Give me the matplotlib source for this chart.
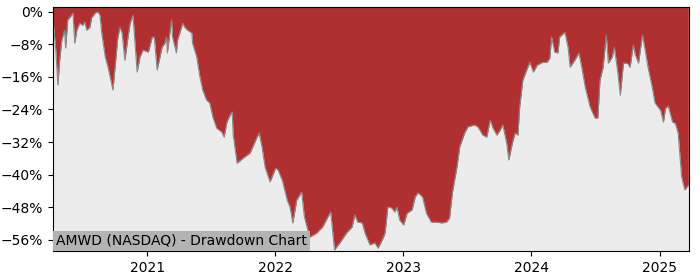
import matplotlib
matplotlib.use("Agg")
import matplotlib.pyplot as plt
import matplotlib.dates as mdates
from matplotlib.ticker import FuncFormatter
import pandas as pd

# Drawdown values (percent), per date
dates = [
    "2020-04-07", "2020-04-15", "2020-04-21", "2020-04-26", "2020-05-02", "2020-05-10",
    "2020-05-13", "2020-05-19", "2020-05-30", "2020-06-03", "2020-06-08", "2020-06-14",
    "2020-06-22", "2020-07-01", "2020-07-07", "2020-07-12", "2020-07-21", "2020-07-26",
    "2020-08-05", "2020-08-13", "2020-08-19", "2020-08-24", "2020-09-03", "2020-09-11",
    "2020-09-25", "2020-10-01", "2020-10-09", "2020-10-15", "2020-10-21", "2020-10-29",
    "2020-11-07", "2020-11-13", "2020-11-21", "2020-12-03", "2020-12-11", "2020-12-20",
    "2021-01-04", "2021-01-15", "2021-01-21", "2021-01-29", "2021-02-12", "2021-02-20",
    "2021-02-25", "2021-02-27", "2021-03-11", "2021-03-14", "2021-03-25", "2021-03-28",
    "2021-04-12", "2021-04-18", "2021-04-26", "2021-05-08", "2021-05-10", "2021-05-22",
    "2021-05-31", "2021-06-08", "2021-06-19", "2021-06-28", "2021-07-07", "2021-07-18",
    "2021-08-02", "2021-08-08", "2021-08-16", "2021-08-25", "2021-08-31", "2021-09-03",
    "2021-09-14", "2021-10-01", "2021-10-21", "2021-11-10", "2021-11-16", "2021-11-24",
    "2021-12-03", "2021-12-17", "2022-01-02", "2022-01-09", "2022-01-21", "2022-02-04",
    "2022-02-12", "2022-02-20", "2022-03-03", "2022-03-17", "2022-03-25", "2022-04-09",
    "2022-04-29", "2022-05-16", "2022-05-31", "2022-06-08", "2022-06-19", "2022-07-04",
    "2022-07-23", "2022-08-08", "2022-08-16", "2022-08-24", "2022-09-06", "2022-09-14",
    "2022-09-28", "2022-10-12", "2022-10-21", "2022-11-02", "2022-11-10", "2022-11-18",
    "2022-11-29", "2022-12-08", "2022-12-14", "2022-12-22", "2023-01-02", "2023-01-12",
    "2023-01-26", "2023-02-04", "2023-02-12", "2023-02-25", "2023-03-08", "2023-03-22",
    "2023-04-06", "2023-04-20", "2023-05-04", "2023-05-13", "2023-05-21", "2023-06-03",
    "2023-06-11", "2023-06-25", "2023-07-04", "2023-07-23", "2023-08-02", "2023-08-16",
    "2023-08-27", "2023-09-06", "2023-09-14", "2023-09-25", "2023-10-04", "2023-10-12",
    "2023-10-23", "2023-10-29", "2023-11-08", "2023-11-16", "2023-11-24", "2023-11-29",
    "2023-12-08", "2023-12-19", "2023-12-28", "2024-01-07", "2024-01-18", "2024-02-02",
    "2024-02-15", "2024-02-23", "2024-02-28", "2024-03-08", "2024-03-17", "2024-03-22",
    "2024-04-06", "2024-04-15", "2024-04-21", "2024-05-04", "2024-05-16", "2024-05-24",
    "2024-06-03", "2024-06-17", "2024-07-01", "2024-07-09", "2024-07-15", "2024-07-24",
    "2024-08-02", "2024-08-08", "2024-08-19", "2024-08-25", "2024-09-03", "2024-09-11",
    "2024-09-20", "2024-10-01", "2024-10-09", "2024-10-18", "2024-10-24", "2024-11-02",
    "2024-11-13", "2024-11-21", "2024-11-29", "2024-12-11", "2024-12-19", "2025-01-04",
    "2025-01-12", "2025-01-18", "2025-01-26", "2025-02-07", "2025-02-15", "2025-02-23",
    "2025-03-05", "2025-03-14", "2025-03-24",
]
drawdown = [
    -2.0, -9.4, -18.0, -11.9, -7.0, -4.5,
    -8.9, -2.0, -0.8, -0.3, -7.7, -4.5,
    -2.8, -3.3, -2.5, -4.5, -3.8, -1.5,
    -0.3, 0.0, -0.8, -5.2, -11.1, -13.6,
    -19.2, -13.6, -6.2, -3.8, -5.2, -11.9,
    -6.2, -2.8, -0.8, -14.8, -11.1, -9.4,
    -9.9, -6.2, -6.2, -14.3, -8.7, -7.7,
    -6.2, -10.1, -2.0, -6.2, -10.1, -7.0,
    -2.8, -3.8, -4.5, -5.2, -7.7, -11.1,
    -16.0, -19.2, -21.7, -22.4, -25.9, -28.6,
    -29.6, -30.8, -27.1, -25.4, -24.6, -30.3,
    -37.2, -36.0, -34.7, -30.8, -29.8, -33.2,
    -38.2, -41.8, -38.4, -38.9, -41.4, -46.3,
    -48.0, -51.9, -46.3, -44.3, -50.4, -55.4,
    -54.4, -52.9, -50.4, -49.2, -58.5, -56.8,
    -54.4, -52.9, -49.9, -51.7, -51.9, -54.4,
    -57.3, -56.8, -58.1, -56.1, -54.4, -48.0,
    -48.2, -49.2, -48.0, -51.2, -52.4, -49.5,
    -48.7, -45.5, -44.5, -45.5, -49.5, -51.7,
    -51.7, -51.9, -51.7, -50.7, -44.5, -38.2,
    -33.2, -29.8, -28.3, -27.8, -28.3, -30.3,
    -30.8, -26.6, -28.6, -30.3, -29.1, -27.8,
    -32.3, -36.4, -32.3, -29.8, -30.3, -23.4,
    -16.8, -14.3, -12.4, -14.8, -13.1, -12.4,
    -12.4, -11.4, -6.2, -9.9, -10.1, -6.2,
    -5.0, -8.7, -13.6, -11.9, -10.1, -13.6,
    -18.5, -23.4, -26.1, -26.1, -16.8, -13.6,
    -5.7, -12.6, -11.1, -8.7, -14.3, -20.5,
    -12.6, -12.6, -13.6, -8.2, -10.6, -12.6,
    -5.7, -9.4, -13.6, -18.5, -22.4, -24.2,
    -27.1, -23.7, -23.2, -27.1, -27.4, -29.8,
    -40.6, -43.8, -42.6,
]
yticks = [0, -8, -16, -24, -32, -40, -48, -56]
title = "AMWD (NASDAQ) - Drawdown Chart"


def pct(v, pos):
    # echte minteken gebruiken zoals matplotlib standaard doet
    return ("%d%%" % v).replace("-", "\u2212")


def DrawdownChart():
    x = pd.to_datetime(dates)
    ymin, ymax = -58.8, 1.2

    fig = plt.figure(figsize=(7, 2.8), dpi=100)
    ax = fig.add_axes([0.0757, 0.1036, 0.9086, 0.8714])
    ax.set_facecolor('#ececec')

    # rood boven de curve, grijs eronder
    ax.fill_between(x, drawdown, ymax, color='#b03031', linewidth=0)
    ax.plot(x, drawdown, color='#8a8a8a', linewidth=0.8)

    ax.set_ylim(ymin, ymax)
    ax.set_xlim(x[0], x[-1] + pd.Timedelta(days=2))
    ax.set_yticks(yticks)
    ax.yaxis.set_major_formatter(FuncFormatter(pct))
    ax.xaxis.set_major_locator(mdates.YearLocator())
    ax.xaxis.set_major_formatter(mdates.DateFormatter('%Y'))

    ax.annotate(title, xy=(0, 0), xycoords='axes fraction', xytext=(3, 3),
                textcoords='offset pixels', fontsize=10, ha='left', va='bottom',
                bbox=dict(boxstyle='square,pad=0.2', fc='#b3b3b3', ec='none'))

    fig.savefig('out.png')


if __name__ == '__main__':
    DrawdownChart()
